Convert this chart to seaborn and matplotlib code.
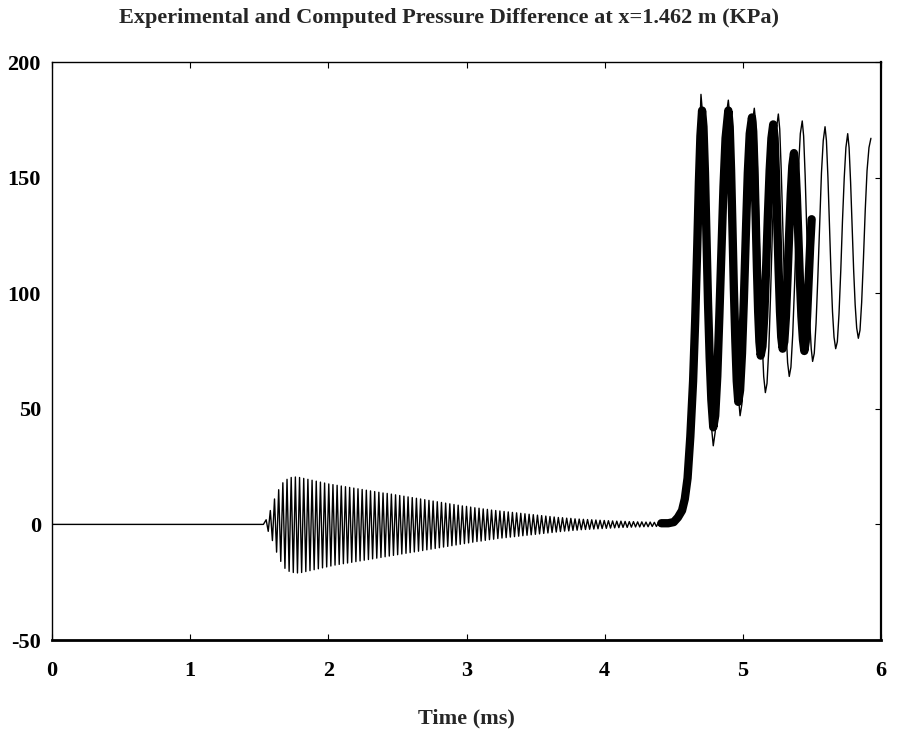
import numpy as np
import pandas as pd
import matplotlib
matplotlib.use("Agg")
import matplotlib.pyplot as plt
import seaborn as sns

# ---------------- data ----------------
title = "Experimental and Computed Pressure Difference at x=1.462 m (KPa)"
x_label = "Time (ms)"
x_ticks = [0, 1, 2, 3, 4, 5, 6]
y_ticks = [-50, 0, 50, 100, 150, 200]

# computed signal: quiet lead-in
lead_t = [0.0, 1.53]
lead_v = [0.0, 0.0]

# computed signal: precursor oscillation, successive maxima / minima (KPa)
osc_start, osc_end = 1.55, 4.435
osc_peaks = [2, 6, 11, 15, 18, 19.5, 20.3, 20.5, 20.3, 19.9, 19.5, 19.1, 18.7, 18.3,
             17.9, 17.5, 17.2, 16.9, 16.6, 16.3, 16.0, 15.7, 15.4, 15.1, 14.8, 14.5,
             14.2, 13.9, 13.6, 13.4, 13.1, 12.8, 12.5, 12.2, 11.9, 11.6, 11.3, 11.0,
             10.7, 10.4, 10.1, 9.8, 9.5, 9.2, 8.9, 8.6, 8.3, 8.0, 7.8, 7.5, 7.2, 7.0,
             6.7, 6.5, 6.2, 6.0, 5.8, 5.6, 5.4, 5.2, 5.0, 4.8, 4.6, 4.4, 4.2, 4.0,
             3.8, 3.6, 3.4, 3.2, 3.0, 2.9, 2.7, 2.6, 2.4, 2.3, 2.2, 2.1, 2.0, 1.9,
             1.8, 1.7, 1.6, 1.5, 1.4, 1.4, 1.3, 1.2, 1.2, 1.1, 1.1, 1.0, 1.0, 0.9,
             0.9, 0.8]
osc_troughs = [-3, -7, -12, -16, -19, -20.3, -20.8, -21.0, -20.8, -20.4, -20.0, -19.6,
               -19.2, -18.8, -18.4, -18.0, -17.6, -17.3, -17.0, -16.7, -16.4, -16.1,
               -15.8, -15.5, -15.2, -14.9, -14.6, -14.3, -14.0, -13.7, -13.4, -13.1,
               -12.8, -12.5, -12.2, -11.9, -11.6, -11.3, -11.0, -10.7, -10.4, -10.1,
               -9.8, -9.5, -9.2, -8.9, -8.6, -8.3, -8.0, -7.7, -7.4, -7.2, -6.9, -6.6,
               -6.4, -6.1, -5.9, -5.7, -5.5, -5.3, -5.1, -4.9, -4.7, -4.5, -4.3, -4.1,
               -3.9, -3.7, -3.5, -3.3, -3.1, -2.9, -2.8, -2.6, -2.5, -2.3, -2.2, -2.1,
               -2.0, -1.9, -1.8, -1.7, -1.6, -1.5, -1.4, -1.3, -1.3, -1.2, -1.1, -1.1,
               -1.0, -1.0, -0.9, -0.9, -0.8, -0.8]

# computed signal: main pressure wave
comp_t = [4.45, 4.50, 4.54, 4.57, 4.59, 4.61, 4.63, 4.645, 4.66, 4.672, 4.682, 4.69, 4.697,
          4.708, 4.72, 4.732, 4.745, 4.757, 4.77, 4.786,
          4.80, 4.815, 4.83, 4.845, 4.86, 4.875, 4.887, 4.895,
          4.905, 4.917, 4.93, 4.943, 4.955, 4.967, 4.98,
          4.993, 5.007, 5.02, 5.035, 5.05, 5.065, 5.083,
          5.093, 5.105, 5.117, 5.128, 5.14, 5.151, 5.163,
          5.175, 5.188, 5.20, 5.214, 5.228, 5.243, 5.257,
          5.267, 5.278, 5.29, 5.301, 5.313, 5.324, 5.336,
          5.348, 5.361, 5.374, 5.388, 5.402, 5.416, 5.43,
          5.44, 5.451, 5.462, 5.473, 5.484, 5.495, 5.505,
          5.517, 5.53, 5.543, 5.556, 5.569, 5.582, 5.595,
          5.605, 5.616, 5.627, 5.638, 5.649, 5.66, 5.672,
          5.684, 5.696, 5.709, 5.721, 5.734, 5.746, 5.759,
          5.769, 5.78, 5.791, 5.802, 5.813, 5.824, 5.836,
          5.848, 5.86, 5.873, 5.886, 5.899, 5.913, 5.927]
comp_v = [0, 1, 4, 9, 15, 26, 46, 70, 100, 130, 156, 174, 186,
          178, 155, 122, 88, 62, 44, 34,
          40, 58, 85, 115, 145, 168, 180, 183.5,
          177, 157, 128, 98, 73, 56, 47,
          52, 68, 93, 123, 152, 172, 180,
          174, 155, 128, 102, 79, 64, 57,
          61, 76, 98, 127, 153, 171, 177.5,
          171, 153, 128, 104, 84, 70, 64,
          68, 82, 103, 129, 153, 169, 174.5,
          168, 151, 128, 106, 88, 76, 70.5,
          74, 87, 107, 130, 152, 166, 172,
          166, 150, 129, 109, 92, 81, 76,
          79, 91, 110, 131, 150, 163, 169,
          163, 148, 129, 110, 95, 85, 80.5,
          84, 96, 115, 136, 153, 163, 167]

# experimental signal
exp_t = [4.41, 4.46, 4.50, 4.53, 4.56, 4.58, 4.60, 4.62, 4.64, 4.655, 4.67, 4.682, 4.693, 4.705,
         4.715, 4.726, 4.737, 4.748, 4.76, 4.772, 4.786,
         4.80, 4.815, 4.83, 4.845, 4.86, 4.875, 4.895,
         4.905, 4.915, 4.925, 4.935, 4.946, 4.956, 4.967,
         4.98, 4.994, 5.008, 5.022, 5.036, 5.05, 5.066,
         5.075, 5.084, 5.093, 5.102, 5.111, 5.12, 5.129,
         5.142, 5.155, 5.168, 5.181, 5.194, 5.207, 5.22,
         5.23, 5.24, 5.249, 5.259, 5.269, 5.278, 5.288,
         5.30, 5.312, 5.323, 5.335, 5.347, 5.358, 5.37,
         5.38, 5.391, 5.402, 5.413, 5.424, 5.435, 5.445,
         5.455, 5.465, 5.476, 5.487, 5.498]
exp_v = [0.5, 0.5, 1, 3, 6, 11, 20, 38, 62, 88, 120, 148, 168, 179,
         172, 152, 124, 96, 72, 54, 42,
         47, 64, 90, 118, 146, 167, 179,
         172, 153, 128, 102, 79, 62, 53,
         58, 74, 98, 126, 152, 169, 176,
         170, 154, 133, 111, 92, 79, 73,
         77, 90, 110, 133, 153, 167, 173,
         167, 151, 131, 110, 92, 81, 76,
         79, 90, 106, 125, 143, 155, 160.6,
         156, 142, 124, 106, 90, 80, 75,
         79, 90, 105, 120, 132]

# ---------------- assemble tables ----------------
osc_vals = []
for p, q in zip(osc_peaks, osc_troughs):
    osc_vals.extend([p, q])
osc_t = list(np.linspace(osc_start, osc_end, len(osc_vals)))

computed = pd.DataFrame({
    "t": lead_t + osc_t + comp_t,
    "p": lead_v + osc_vals + comp_v,
})
experimental = pd.DataFrame({"t": exp_t, "p": exp_v})

# ---------------- plot ----------------
sns.set_style("white")
plt.rcParams["font.family"] = ["Liberation Serif", "DejaVu Serif"]

fig = plt.figure(figsize=(8.98, 7.31), dpi=100)
ax = fig.add_axes([52 / 898, 91 / 731, 829 / 898, 578 / 731])

sns.lineplot(data=experimental, x="t", y="p", ax=ax, estimator=None, sort=False,
             color="black", linewidth=6.0, solid_capstyle="round",
             solid_joinstyle="round")
sns.lineplot(data=computed, x="t", y="p", ax=ax, estimator=None, sort=False,
             color="black", linewidth=1.0)

ax.set_xlim(x_ticks[0], x_ticks[-1])
ax.set_ylim(y_ticks[0], y_ticks[-1])
ax.set_xticks(x_ticks)
ax.set_yticks(y_ticks)
ax.set_xticklabels([str(v) for v in x_ticks], fontsize=16, fontweight="bold")
ax.set_yticklabels([str(v) for v in y_ticks], fontsize=16, fontweight="bold")
ax.tick_params(axis="x", direction="in", length=4, width=0.8, top=True, bottom=True,
               pad=15, colors="black")
ax.tick_params(axis="y", direction="in", length=4, width=0.8, left=False, right=True,
               pad=8, colors="black")
ax.set_xlabel(x_label, fontsize=16, fontweight="bold", labelpad=20)
ax.set_ylabel("")
fig.text(0.5, 1 - 18 / 731, title, fontsize=16, fontweight="bold",
         ha="center", va="center")

for side, lw in (("bottom", 2.0), ("right", 1.6), ("top", 1.0), ("left", 1.0)):
    ax.spines[side].set_visible(True)
    ax.spines[side].set_linewidth(lw)
    ax.spines[side].set_color("black")

fig.savefig("out.png", dpi=100)
